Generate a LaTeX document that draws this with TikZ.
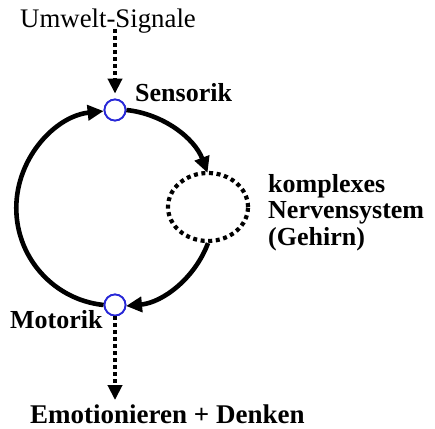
\documentclass[tikz,border=0pt]{standalone}
\usepackage{fontspec}
\setmainfont{Liberation Serif}
\usetikzlibrary{arrows.meta,shapes.geometric}
\begin{document}
\begin{tikzpicture}[x=1pt,y=1pt,
  lbl/.style={inner sep=0pt, anchor=base west, font=\fontsize{26.8}{26.5}\selectfont},
  blbl/.style={lbl, font=\fontsize{26}{26.5}\selectfont\bfseries},
  port/.style={circle, draw={rgb,255:red,40;green,40;blue,215}, line width=1.8pt, fill=white, minimum size=21pt, inner sep=0pt},
  flow/.style={line width=4.6pt, -{Triangle[length=16pt,width=15pt]}},
  signal/.style={line width=4.6pt, dash pattern=on 4pt off 3pt, -{Triangle[length=15pt,width=14pt]}},
  brainring/.style={ellipse, draw, line width=4.2pt, dash pattern=on 4pt off 3.6pt, minimum width=80pt, minimum height=68pt, inner sep=0pt}]
\useasboundingbox (0,0) rectangle (435,-428);

% text labels
\node[lbl] (umw) at (20,-28) {Umwelt-Signale};
\node[blbl] (sentxt) at (135,-101) {Sensorik};
\node[blbl] (mottxt) at (10,-328) {Motorik};
\node[blbl, align=left, anchor=north west] (braintxt) at (268,-174) {komplexes\\Nervensystem\\(Gehirn)};
\node[blbl, font=\fontsize{27}{27}\selectfont\bfseries] (emo) at (30,-423) {Emotionieren + Denken};

% brain ring
\node[brainring] (brain) at (208,-207) {};

% sensor and motor ports on the loop
\node[port] (sen) at (115,-110) {};
\node[port] (mot) at (115,-305) {};

% loop: circle of radius 97.5 around (115,-207.5)
\draw[flow] (mot.west) arc[start angle=264, end angle=96, radius=97.5pt];
\draw[flow] (sen.east) arc[start angle=84, end angle=20.5, radius=97.5pt];
\draw[flow] (brain.south) arc[start angle=-20.5, end angle=-84.5, radius=97.5pt];

% ports drawn again on top of the loop
\node[port] at (sen) {};
\node[port] at (mot) {};

% signal arrows
\draw[signal] ([yshift=-1pt]sen |- umw.base) -- ([yshift=5pt]sen.north);
\draw[signal] (mot.south) -- ([yshift=4pt]sen |- emo.north);
\end{tikzpicture}
\end{document}
